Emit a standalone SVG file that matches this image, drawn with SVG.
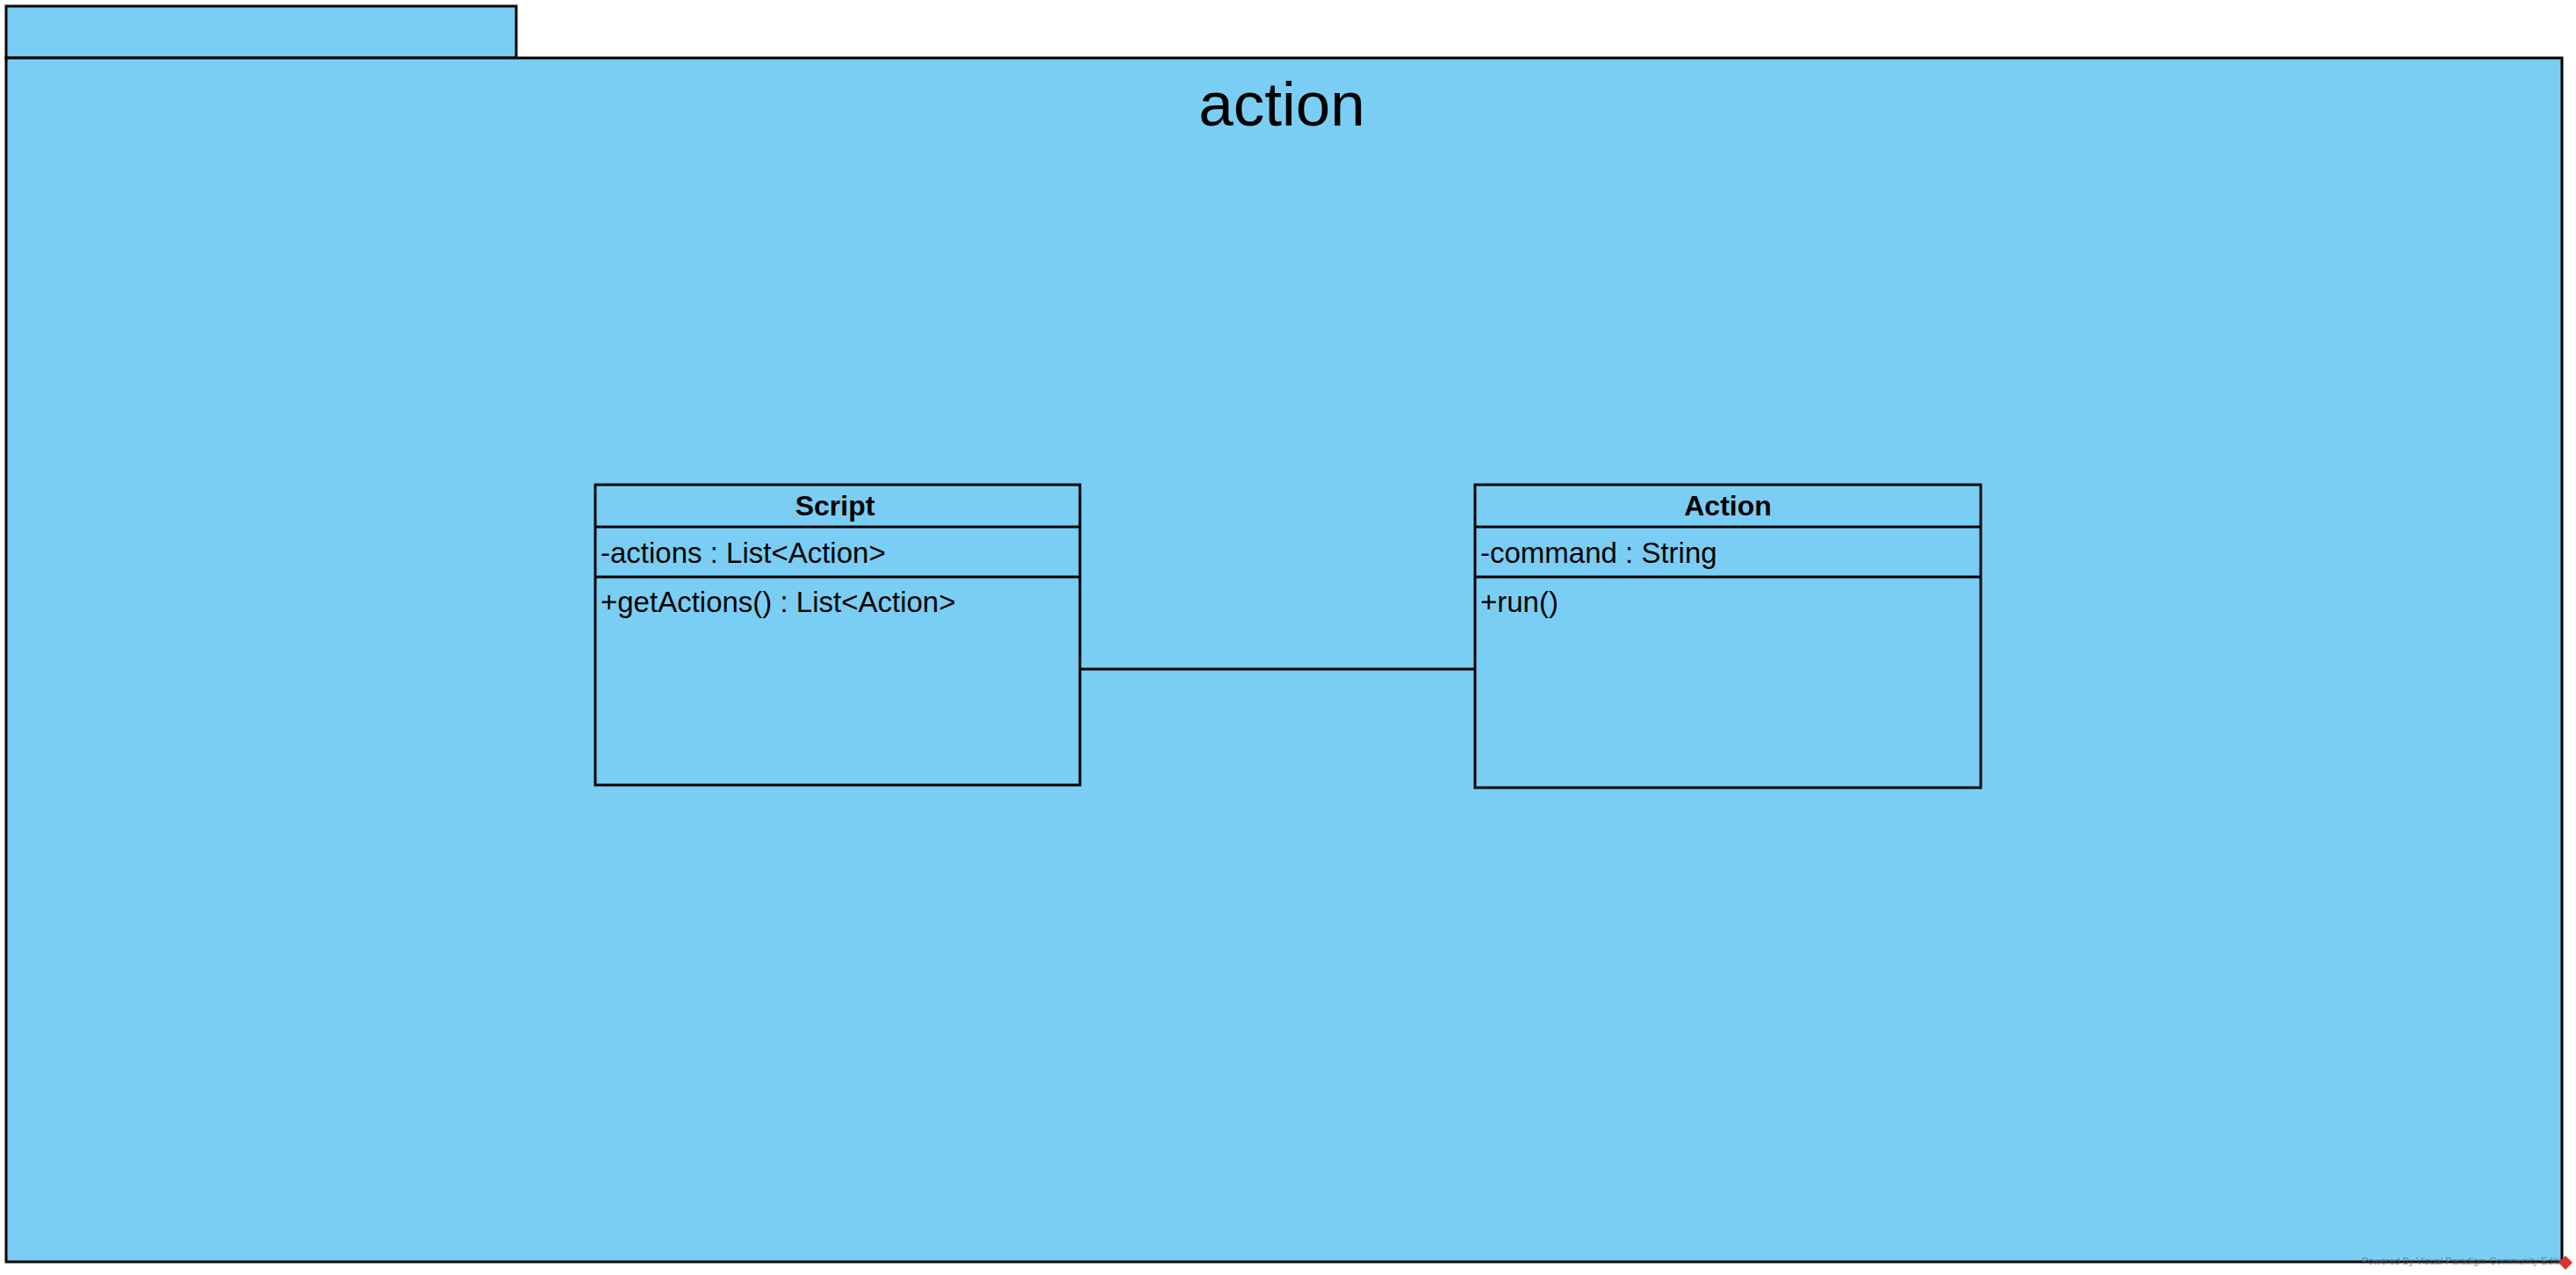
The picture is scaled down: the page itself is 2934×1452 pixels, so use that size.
<svg xmlns="http://www.w3.org/2000/svg" width="2934" height="1452" viewBox="0 0 2934 1452">
<style>
.shape{fill:#7ACEF4;stroke:#000;stroke-width:3}
.sep{stroke:#000;stroke-width:3;fill:none}
.t{font-family:"Liberation Sans",Arial,sans-serif;font-size:33px;fill:#000}
.b{font-weight:bold;text-anchor:middle;font-size:32px}
.pkg{font-family:"Liberation Sans",Arial,sans-serif;font-size:71px;fill:#000;text-anchor:middle}
.wm{font-family:"Liberation Sans",Arial,sans-serif;font-size:11px;fill:#666;opacity:0.8}
</style>
<rect width="2934" height="1452" fill="#fff"/>
<g id="package-action">
  <rect class="shape" x="7" y="7" width="581" height="59"/>
  <rect class="shape" x="7" y="66" width="2911" height="1371"/>
  <text class="pkg" x="1460" y="143">action</text>
</g>
<g id="connectors">
  <line class="sep" x1="1230" y1="762" x2="1680" y2="762"/>
</g>
<g id="class-Script">
  <rect class="shape" x="678" y="552" width="552" height="342"/>
  <line class="sep" x1="678" y1="600" x2="1230" y2="600"/>
  <line class="sep" x1="678" y1="657" x2="1230" y2="657"/>
  <text class="t b" x="951" y="587">Script</text>
  <text class="t" x="684" y="641">-actions : List&lt;Action&gt;</text>
  <text class="t" x="684" y="697">+getActions() : List&lt;Action&gt;</text>
</g>
<g id="class-Action">
  <rect class="shape" x="1680" y="552" width="576" height="345"/>
  <line class="sep" x1="1680" y1="600" x2="2256" y2="600"/>
  <line class="sep" x1="1680" y1="657" x2="2256" y2="657"/>
  <text class="t b" x="1968" y="587">Action</text>
  <text class="t" x="1686" y="641">-command : String</text>
  <text class="t" x="1686" y="697">+run()</text>
</g>
<g id="watermark">
  <text class="wm" x="2690" y="1440">Powered By Visual Paradigm Community Edition</text>
  <polygon points="2922,1430 2930,1438 2922,1446 2914,1438" fill="#d9342b"/>
</g>
</svg>
